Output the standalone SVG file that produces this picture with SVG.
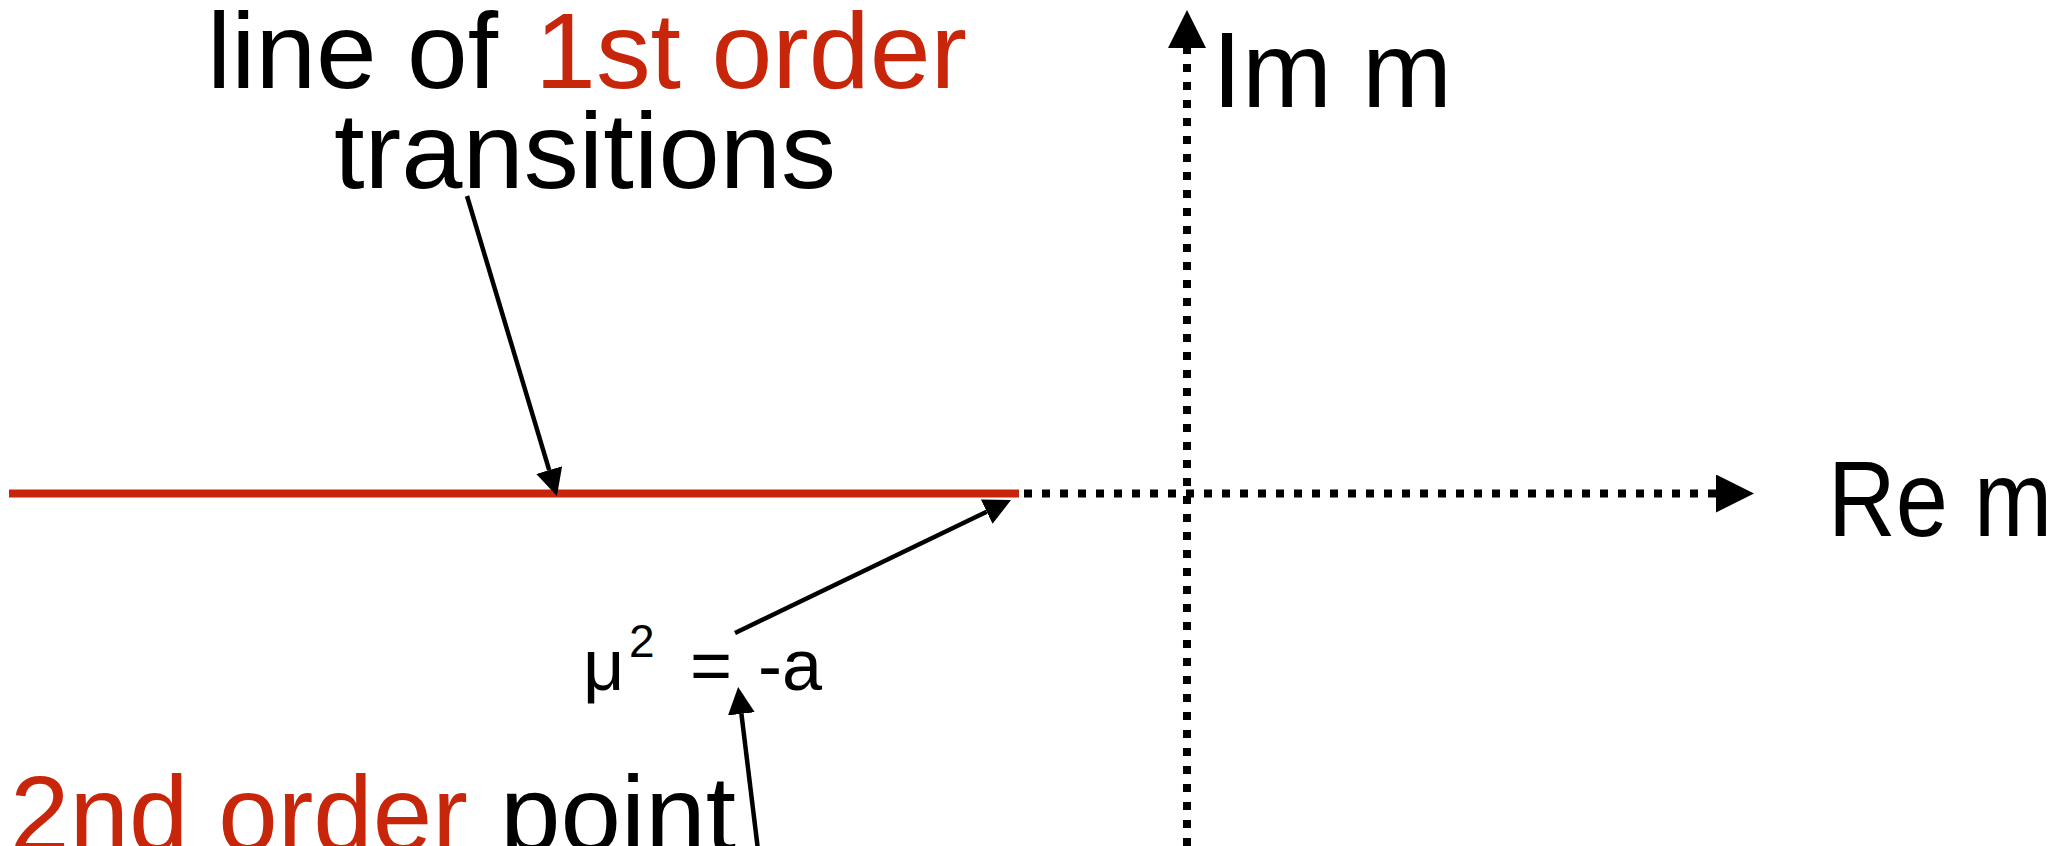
<svg xmlns="http://www.w3.org/2000/svg" width="2072" height="846" viewBox="0 0 2072 846">
<style>
.t{font-family:"Liberation Sans","DejaVu Sans",sans-serif;font-size:108px;fill:#000}
.r{fill:#c8260a}
.s{font-family:"Liberation Sans","DejaVu Sans",sans-serif;font-size:72px;fill:#000}
.arr{stroke:#000;stroke-width:4.5;fill:none}
.dot{stroke:#000;stroke-width:8;stroke-dasharray:8 10;fill:none}
</style>
<defs>
<marker id="ah" markerUnits="userSpaceOnUse" viewBox="0 0 27 27" markerWidth="27" markerHeight="27" refX="0" refY="13.5" orient="auto"><path d="M0,0 L27,13.5 L0,27 z" fill="#000"/></marker>
<marker id="axh" markerUnits="userSpaceOnUse" viewBox="0 0 38 38" markerWidth="38" markerHeight="38" refX="0" refY="19" orient="auto"><path d="M0,0 L38,19 L0,38 z" fill="#000"/></marker>
</defs>
<g id="axes">
<line id="red-line" x1="9" y1="493.5" x2="1019" y2="493.5" stroke="#c8260a" stroke-width="8"/>
<line id="re-axis" class="dot" x1="1024" y1="493.5" x2="1716" y2="493.5" marker-end="url(#axh)"/>
<line id="im-axis" class="dot" x1="1187" y1="846" x2="1187" y2="48" marker-end="url(#axh)"/>
</g>
<g id="connectors">
<line class="arr" x1="467" y1="196" x2="549.2" y2="470.1" marker-end="url(#ah)"/>
<line class="arr" x1="735" y1="633" x2="986.7" y2="511.7" marker-end="url(#ah)"/>
<line class="arr" x1="758" y1="850" x2="741.4" y2="713.8" marker-end="url(#ah)"/>
</g>
<g id="label-first-order">
<text class="t" x="207" y="88" textLength="291" lengthAdjust="spacingAndGlyphs">line of</text>
<text class="t r" x="535" y="88" textLength="432" lengthAdjust="spacingAndGlyphs">1st order</text>
<text class="t" x="334" y="188" textLength="502" lengthAdjust="spacingAndGlyphs">transitions</text>
</g>
<g id="label-im">
<text class="t" x="1212" y="107" textLength="240" lengthAdjust="spacingAndGlyphs">Im m</text>
</g>
<g id="label-re">
<text class="t" x="1828" y="536" textLength="224" lengthAdjust="spacingAndGlyphs">Re m</text>
</g>
<g id="label-mu">
<text class="s" x="583" y="690">μ</text>
<text class="s" x="629" y="657" style="font-size:46px">2</text>
<text class="s" x="690" y="690">=</text>
<text class="s" x="758" y="690">-a</text>
</g>
<g id="label-second-order">
<text class="t r" x="10" y="851" textLength="458" lengthAdjust="spacingAndGlyphs">2nd order</text>
<text class="t" x="500" y="851" textLength="236" lengthAdjust="spacingAndGlyphs">point</text>
</g>
</svg>
